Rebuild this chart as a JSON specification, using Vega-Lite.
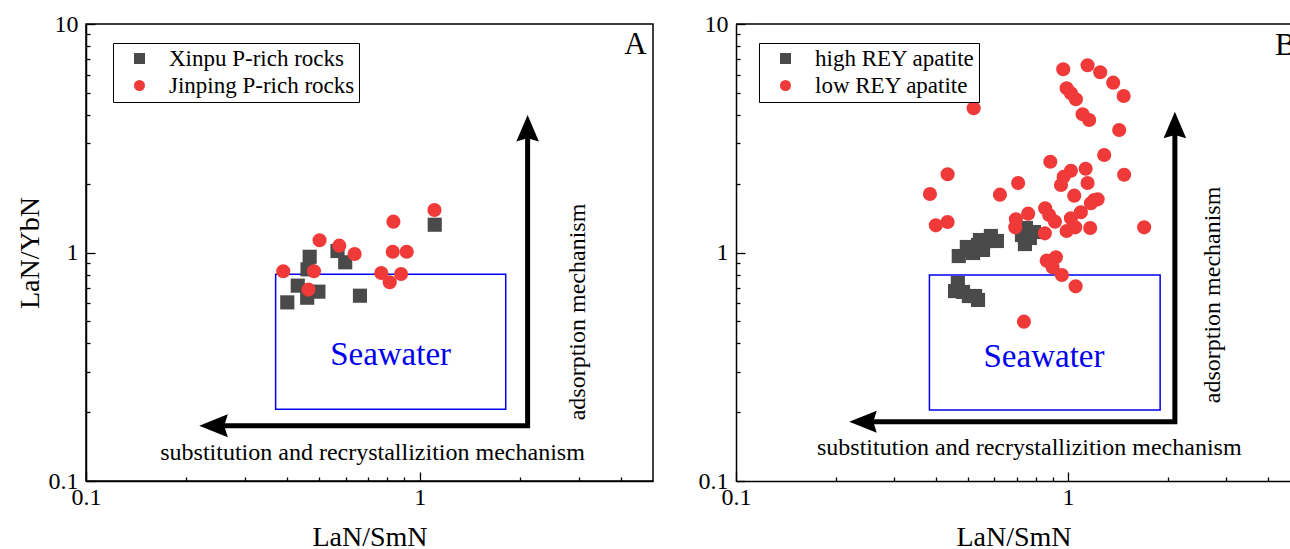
{
  "$schema": "https://vega.github.io/schema/vega-lite/v6.json",
  "background": "white",
  "padding": {"left": 15, "top": 11, "right": 0, "bottom": 0},
  "spacing": 44,
  "config": {
    "view": {"stroke": "black", "strokeWidth": 1.5},
    "axis": {
      "domainColor": "black", "domainWidth": 1.5, "tickColor": "black", "tickWidth": 1.3,
      "labelFont": "Liberation Serif", "labelFontSize": 24, "labelColor": "black",
      "titleFont": "Liberation Serif", "titleFontSize": 28, "titleFontWeight": "normal", "titleColor": "black",
      "grid": false, "labelFlush": false, "labelOverlap": false, "labelBound": false
    },
    "text": {"font": "Liberation Serif"},
    "legend": {
      "title": null, "orient": "none", "padding": 4, "strokeColor": "black", "strokeWidth": 1, "fillColor": "white",
      "labelFont": "Liberation Serif", "labelFontSize": 23, "labelColor": "black", "labelLimit": 500,
      "symbolSize": 121, "symbolOffset": 11, "labelOffset": 18, "rowPadding": 3, "symbolStrokeWidth": 0
    }
  },
  "resolve": {"scale": {"x": "independent", "y": "independent", "color": "independent", "shape": "independent"}},
  "hconcat": [
    {
      "width": 567, "height": 457,
      "layer": [
        {
          "data": {"values": [{"x": 0.37, "x2": 1.81, "y": 0.206, "y2": 0.803}]},
          "mark": {"type": "rect", "filled": false, "color": "#0000ee", "strokeWidth": 1.5},
          "encoding": {
            "x": {"field": "x", "type": "quantitative", "scale": {"type": "log", "domain": [0.1, 5], "nice": false}},
            "x2": {"field": "x2"},
            "y": {"field": "y", "type": "quantitative", "scale": {"type": "log", "domain": [0.1, 10], "nice": false}},
            "y2": {"field": "y2"}
          }
        },
        {
          "data": {"values": [{"x": 0.241, "y": 0.1744, "o": 1}, {"x": 2.105, "y": 0.1744, "o": 2}, {"x": 2.105, "y": 3.5, "o": 3}]},
          "mark": {"type": "line", "color": "black", "strokeWidth": 5, "strokeJoin": "miter", "strokeCap": "butt"},
          "encoding": {
            "x": {"field": "x", "type": "quantitative", "scale": {"type": "log", "domain": [0.1, 5], "nice": false}},
            "y": {"field": "y", "type": "quantitative", "scale": {"type": "log", "domain": [0.1, 10], "nice": false}},
            "order": {"field": "o", "type": "quantitative"}
          }
        },
        {
          "data": {"values": [{"x": 2.105, "y": 3.5}]},
          "mark": {"type": "point", "shape": "M0,-1L0.85,1L0,0.75L-0.85,1Z", "size": 708, "filled": true, "color": "black", "opacity": 1},
          "encoding": {
            "x": {"field": "x", "type": "quantitative", "scale": {"type": "log", "domain": [0.1, 5], "nice": false}},
            "y": {"field": "y", "type": "quantitative", "scale": {"type": "log", "domain": [0.1, 10], "nice": false}}
          }
        },
        {
          "data": {"values": [{"x": 0.241, "y": 0.1744}]},
          "mark": {"type": "point", "shape": "M-1,0L1,-0.8L0.75,0L1,0.8Z", "size": 820, "filled": true, "color": "black", "opacity": 1},
          "encoding": {
            "x": {"field": "x", "type": "quantitative", "scale": {"type": "log", "domain": [0.1, 5], "nice": false}},
            "y": {"field": "y", "type": "quantitative", "scale": {"type": "log", "domain": [0.1, 10], "nice": false}}
          }
        },
        {
          "data": {"values": [{"x": 0.818, "y": 0.356, "label": "Seawater"}]},
          "mark": {"type": "text", "fontSize": 33, "color": "#0000ee", "align": "center", "baseline": "middle"},
          "encoding": {
            "x": {"field": "x", "type": "quantitative", "scale": {"type": "log", "domain": [0.1, 5], "nice": false}},
            "y": {"field": "y", "type": "quantitative", "scale": {"type": "log", "domain": [0.1, 10], "nice": false}},
            "text": {"field": "label"}
          }
        },
        {
          "data": {"values": [{"x": 0.722, "y": 0.1236, "label": "substitution and recrystallizition mechanism"}]},
          "mark": {"type": "text", "fontSize": 24, "color": "black", "align": "center", "baseline": "alphabetic"},
          "encoding": {
            "x": {"field": "x", "type": "quantitative", "scale": {"type": "log", "domain": [0.1, 5], "nice": false}},
            "y": {"field": "y", "type": "quantitative", "scale": {"type": "log", "domain": [0.1, 10], "nice": false}},
            "text": {"field": "label"}
          }
        },
        {
          "data": {"values": [{"x": 3.13, "y": 0.549, "label": "adsorption mechanism"}]},
          "mark": {"type": "text", "fontSize": 24, "color": "black", "align": "center", "baseline": "alphabetic", "angle": 270},
          "encoding": {
            "x": {"field": "x", "type": "quantitative", "scale": {"type": "log", "domain": [0.1, 5], "nice": false}},
            "y": {"field": "y", "type": "quantitative", "scale": {"type": "log", "domain": [0.1, 10], "nice": false}},
            "text": {"field": "label"}
          }
        },
        {
          "data": {"values": [{"x": 4.1, "y": 7.37, "label": "A"}]},
          "mark": {"type": "text", "fontSize": 31, "color": "black", "align": "left", "baseline": "alphabetic"},
          "encoding": {
            "x": {"field": "x", "type": "quantitative", "scale": {"type": "log", "domain": [0.1, 5], "nice": false}},
            "y": {"field": "y", "type": "quantitative", "scale": {"type": "log", "domain": [0.1, 10], "nice": false}},
            "text": {"field": "label"}
          }
        },
        {
          "data": {"values": [
            {"series": "Xinpu P-rich rocks", "x": 1.109, "y": 1.323},
            {"series": "Xinpu P-rich rocks", "x": 0.468, "y": 0.958},
            {"series": "Xinpu P-rich rocks", "x": 0.567, "y": 1.015},
            {"series": "Xinpu P-rich rocks", "x": 0.598, "y": 0.906},
            {"series": "Xinpu P-rich rocks", "x": 0.461, "y": 0.844},
            {"series": "Xinpu P-rich rocks", "x": 0.431, "y": 0.716},
            {"series": "Xinpu P-rich rocks", "x": 0.497, "y": 0.674},
            {"series": "Xinpu P-rich rocks", "x": 0.46, "y": 0.634},
            {"series": "Xinpu P-rich rocks", "x": 0.401, "y": 0.605},
            {"series": "Xinpu P-rich rocks", "x": 0.662, "y": 0.647},
            {"series": "Jinping P-rich rocks", "x": 1.107, "y": 1.535},
            {"series": "Jinping P-rich rocks", "x": 0.834, "y": 1.364},
            {"series": "Jinping P-rich rocks", "x": 0.501, "y": 1.131},
            {"series": "Jinping P-rich rocks", "x": 0.574, "y": 1.071},
            {"series": "Jinping P-rich rocks", "x": 0.638, "y": 0.985},
            {"series": "Jinping P-rich rocks", "x": 0.83, "y": 1.008},
            {"series": "Jinping P-rich rocks", "x": 0.914, "y": 1.008},
            {"series": "Jinping P-rich rocks", "x": 0.39, "y": 0.828},
            {"series": "Jinping P-rich rocks", "x": 0.482, "y": 0.828},
            {"series": "Jinping P-rich rocks", "x": 0.767, "y": 0.813},
            {"series": "Jinping P-rich rocks", "x": 0.879, "y": 0.805},
            {"series": "Jinping P-rich rocks", "x": 0.813, "y": 0.741},
            {"series": "Jinping P-rich rocks", "x": 0.464, "y": 0.688}
          ]},
          "mark": {"type": "point", "filled": true, "size": 200, "opacity": 1},
          "encoding": {
            "x": {"field": "x", "type": "quantitative", "scale": {"type": "log", "domain": [0.1, 5], "nice": false},
              "axis": {"title": "LaN/SmN", "values": [0.1, 0.2, 0.3, 0.4, 0.5, 0.6, 0.7, 0.8, 0.9, 1, 2, 3, 4],
                "labelExpr": "datum.value == 0.1 ? '0.1' : datum.value == 1 ? '1' : ''",
                "tickSize": {"condition": {"test": "datum.value == 0.1 || datum.value == 1", "value": -9}, "value": -4},
                "labelPadding": 13, "titlePadding": 9}},
            "y": {"field": "y", "type": "quantitative", "scale": {"type": "log", "domain": [0.1, 10], "nice": false},
              "axis": {"title": "LaN/YbN", "values": [0.1, 0.2, 0.3, 0.4, 0.5, 0.6, 0.7, 0.8, 0.9, 1, 2, 3, 4, 5, 6, 7, 8, 9, 10],
                "labelExpr": "datum.value == 0.1 ? '0.1' : datum.value == 1 ? '1' : datum.value == 10 ? '10' : ''",
                "tickSize": {"condition": {"test": "datum.value == 0.1 || datum.value == 1 || datum.value == 10", "value": -9}, "value": -4},
                "labelPadding": 17, "titlePadding": 4}},
            "color": {"field": "series", "type": "nominal",
              "scale": {"domain": ["Xinpu P-rich rocks", "Jinping P-rich rocks"], "range": ["#4a4a4a", "#f03a3a"]},
              "legend": {"legendX": 27, "legendY": 19}},
            "shape": {"field": "series", "type": "nominal",
              "scale": {"domain": ["Xinpu P-rich rocks", "Jinping P-rich rocks"], "range": ["square", "circle"]},
              "legend": {"legendX": 27, "legendY": 19}}
          }
        }
      ]
    },
    {
      "width": 555, "height": 457,
      "view": {"stroke": null},
      "layer": [
        {
          "data": {"values": [{"y": 10}]},
          "mark": {"type": "rule", "color": "black", "strokeWidth": 1.5},
          "encoding": {
            "y": {"field": "y", "type": "quantitative", "scale": {"type": "log", "domain": [0.1, 10], "nice": false}}
          }
        },
        {
          "data": {"values": [{"x": 0.3826, "x2": 1.896, "y": 0.2045, "y2": 0.797}]},
          "mark": {"type": "rect", "filled": false, "color": "#0000ee", "strokeWidth": 1.5},
          "encoding": {
            "x": {"field": "x", "type": "quantitative", "scale": {"type": "log", "domain": [0.1, 4.7], "nice": false}},
            "x2": {"field": "x2"},
            "y": {"field": "y", "type": "quantitative", "scale": {"type": "log", "domain": [0.1, 10], "nice": false}},
            "y2": {"field": "y2"}
          }
        },
        {
          "data": {"values": [{"x": 0.2413, "y": 0.1818, "o": 1}, {"x": 2.1, "y": 0.1818, "o": 2}, {"x": 2.1, "y": 3.614, "o": 3}]},
          "mark": {"type": "line", "color": "black", "strokeWidth": 5, "strokeJoin": "miter", "strokeCap": "butt"},
          "encoding": {
            "x": {"field": "x", "type": "quantitative", "scale": {"type": "log", "domain": [0.1, 4.7], "nice": false}},
            "y": {"field": "y", "type": "quantitative", "scale": {"type": "log", "domain": [0.1, 10], "nice": false}},
            "order": {"field": "o", "type": "quantitative"}
          }
        },
        {
          "data": {"values": [{"x": 2.1, "y": 3.614}]},
          "mark": {"type": "point", "shape": "M0,-1L0.85,1L0,0.75L-0.85,1Z", "size": 708, "filled": true, "color": "black", "opacity": 1},
          "encoding": {
            "x": {"field": "x", "type": "quantitative", "scale": {"type": "log", "domain": [0.1, 4.7], "nice": false}},
            "y": {"field": "y", "type": "quantitative", "scale": {"type": "log", "domain": [0.1, 10], "nice": false}}
          }
        },
        {
          "data": {"values": [{"x": 0.2413, "y": 0.1818}]},
          "mark": {"type": "point", "shape": "M-1,0L1,-0.8L0.75,0L1,0.8Z", "size": 760, "filled": true, "color": "black", "opacity": 1},
          "encoding": {
            "x": {"field": "x", "type": "quantitative", "scale": {"type": "log", "domain": [0.1, 4.7], "nice": false}},
            "y": {"field": "y", "type": "quantitative", "scale": {"type": "log", "domain": [0.1, 10], "nice": false}}
          }
        },
        {
          "data": {"values": [{"x": 0.847, "y": 0.35, "label": "Seawater"}]},
          "mark": {"type": "text", "fontSize": 33, "color": "#0000ee", "align": "center", "baseline": "middle"},
          "encoding": {
            "x": {"field": "x", "type": "quantitative", "scale": {"type": "log", "domain": [0.1, 4.7], "nice": false}},
            "y": {"field": "y", "type": "quantitative", "scale": {"type": "log", "domain": [0.1, 10], "nice": false}},
            "text": {"field": "label"}
          }
        },
        {
          "data": {"values": [{"x": 0.765, "y": 0.13, "label": "substitution and recrystallizition mechanism"}]},
          "mark": {"type": "text", "fontSize": 24, "color": "black", "align": "center", "baseline": "alphabetic"},
          "encoding": {
            "x": {"field": "x", "type": "quantitative", "scale": {"type": "log", "domain": [0.1, 4.7], "nice": false}},
            "y": {"field": "y", "type": "quantitative", "scale": {"type": "log", "domain": [0.1, 10], "nice": false}},
            "text": {"field": "label"}
          }
        },
        {
          "data": {"values": [{"x": 2.87, "y": 0.652, "label": "adsorption mechanism"}]},
          "mark": {"type": "text", "fontSize": 24, "color": "black", "align": "center", "baseline": "alphabetic", "angle": 270},
          "encoding": {
            "x": {"field": "x", "type": "quantitative", "scale": {"type": "log", "domain": [0.1, 4.7], "nice": false}},
            "y": {"field": "y", "type": "quantitative", "scale": {"type": "log", "domain": [0.1, 10], "nice": false}},
            "text": {"field": "label"}
          }
        },
        {
          "data": {"values": [{"x": 4.203, "y": 7.317, "label": "B"}]},
          "mark": {"type": "text", "fontSize": 31, "color": "black", "align": "left", "baseline": "alphabetic", "clip": true},
          "encoding": {
            "x": {"field": "x", "type": "quantitative", "scale": {"type": "log", "domain": [0.1, 4.7], "nice": false}},
            "y": {"field": "y", "type": "quantitative", "scale": {"type": "log", "domain": [0.1, 10], "nice": false}},
            "text": {"field": "label"}
          }
        },
        {
          "data": {"values": [
            {"series": "high REY apatite", "x": 0.469, "y": 0.965},
            {"series": "high REY apatite", "x": 0.496, "y": 1.057},
            {"series": "high REY apatite", "x": 0.518, "y": 0.995},
            {"series": "high REY apatite", "x": 0.536, "y": 1.078},
            {"series": "high REY apatite", "x": 0.555, "y": 1.026},
            {"series": "high REY apatite", "x": 0.57, "y": 1.123},
            {"series": "high REY apatite", "x": 0.586, "y": 1.181},
            {"series": "high REY apatite", "x": 0.611, "y": 1.123},
            {"series": "high REY apatite", "x": 0.543, "y": 1.134},
            {"series": "high REY apatite", "x": 0.51, "y": 1.025},
            {"series": "high REY apatite", "x": 0.727, "y": 1.193},
            {"series": "high REY apatite", "x": 0.747, "y": 1.28},
            {"series": "high REY apatite", "x": 0.79, "y": 1.229},
            {"series": "high REY apatite", "x": 0.768, "y": 1.157},
            {"series": "high REY apatite", "x": 0.742, "y": 1.089},
            {"series": "high REY apatite", "x": 0.466, "y": 0.735},
            {"series": "high REY apatite", "x": 0.457, "y": 0.678},
            {"series": "high REY apatite", "x": 0.483, "y": 0.672},
            {"series": "high REY apatite", "x": 0.503, "y": 0.645},
            {"series": "high REY apatite", "x": 0.536, "y": 0.62},
            {"series": "high REY apatite", "x": 0.525, "y": 0.645},
            {"series": "low REY apatite", "x": 1.286, "y": 2.671},
            {"series": "low REY apatite", "x": 0.885, "y": 2.496},
            {"series": "low REY apatite", "x": 0.434, "y": 2.199},
            {"series": "low REY apatite", "x": 1.021, "y": 2.28},
            {"series": "low REY apatite", "x": 0.971, "y": 2.146},
            {"series": "low REY apatite", "x": 1.131, "y": 2.326},
            {"series": "low REY apatite", "x": 1.477, "y": 2.19},
            {"series": "low REY apatite", "x": 0.708, "y": 2.015},
            {"series": "low REY apatite", "x": 0.953, "y": 1.974},
            {"series": "low REY apatite", "x": 1.146, "y": 2.015},
            {"series": "low REY apatite", "x": 0.384, "y": 1.803},
            {"series": "low REY apatite", "x": 0.624, "y": 1.791},
            {"series": "low REY apatite", "x": 1.045, "y": 1.773},
            {"series": "low REY apatite", "x": 1.2, "y": 1.697},
            {"series": "low REY apatite", "x": 1.173, "y": 1.642},
            {"series": "low REY apatite", "x": 1.229, "y": 1.709},
            {"series": "low REY apatite", "x": 0.854, "y": 1.561},
            {"series": "low REY apatite", "x": 0.759, "y": 1.479},
            {"series": "low REY apatite", "x": 1.094, "y": 1.5},
            {"series": "low REY apatite", "x": 0.878, "y": 1.459},
            {"series": "low REY apatite", "x": 0.697, "y": 1.397},
            {"series": "low REY apatite", "x": 1.021, "y": 1.411},
            {"series": "low REY apatite", "x": 0.914, "y": 1.364},
            {"series": "low REY apatite", "x": 0.434, "y": 1.36},
            {"series": "low REY apatite", "x": 0.4, "y": 1.315},
            {"series": "low REY apatite", "x": 1.697, "y": 1.289},
            {"series": "low REY apatite", "x": 1.167, "y": 1.28},
            {"series": "low REY apatite", "x": 1.052, "y": 1.289},
            {"series": "low REY apatite", "x": 0.991, "y": 1.242},
            {"series": "low REY apatite", "x": 0.694, "y": 1.289},
            {"series": "low REY apatite", "x": 0.852, "y": 1.213},
            {"series": "low REY apatite", "x": 0.863, "y": 0.921},
            {"series": "low REY apatite", "x": 0.92, "y": 0.953},
            {"series": "low REY apatite", "x": 0.899, "y": 0.861},
            {"series": "low REY apatite", "x": 0.959, "y": 0.797},
            {"series": "low REY apatite", "x": 1.055, "y": 0.711},
            {"series": "low REY apatite", "x": 0.737, "y": 0.498},
            {"series": "low REY apatite", "x": 0.968, "y": 6.337},
            {"series": "low REY apatite", "x": 1.146, "y": 6.596},
            {"series": "low REY apatite", "x": 1.251, "y": 6.147},
            {"series": "low REY apatite", "x": 1.369, "y": 5.536},
            {"series": "low REY apatite", "x": 1.472, "y": 4.841},
            {"series": "low REY apatite", "x": 0.991, "y": 5.23},
            {"series": "low REY apatite", "x": 1.021, "y": 4.973},
            {"series": "low REY apatite", "x": 1.057, "y": 4.683},
            {"series": "low REY apatite", "x": 1.107, "y": 4.026},
            {"series": "low REY apatite", "x": 1.159, "y": 3.802},
            {"series": "low REY apatite", "x": 1.427, "y": 3.436},
            {"series": "low REY apatite", "x": 0.52, "y": 4.277}
          ]},
          "mark": {"type": "point", "filled": true, "size": 200, "opacity": 1},
          "encoding": {
            "x": {"field": "x", "type": "quantitative", "scale": {"type": "log", "domain": [0.1, 4.7], "nice": false},
              "axis": {"title": "LaN/SmN", "values": [0.1, 0.2, 0.3, 0.4, 0.5, 0.6, 0.7, 0.8, 0.9, 1, 2, 3, 4],
                "labelExpr": "datum.value == 0.1 ? '0.1' : datum.value == 1 ? '1' : ''",
                "tickSize": {"condition": {"test": "datum.value == 0.1 || datum.value == 1", "value": -9}, "value": -4},
                "labelPadding": 13, "titlePadding": 9}},
            "y": {"field": "y", "type": "quantitative", "scale": {"type": "log", "domain": [0.1, 10], "nice": false},
              "axis": {"title": null, "values": [0.1, 0.2, 0.3, 0.4, 0.5, 0.6, 0.7, 0.8, 0.9, 1, 2, 3, 4, 5, 6, 7, 8, 9, 10],
                "labelExpr": "datum.value == 0.1 ? '0.1' : datum.value == 1 ? '1' : datum.value == 10 ? '10' : ''",
                "tickSize": {"condition": {"test": "datum.value == 0.1 || datum.value == 1 || datum.value == 10", "value": -9}, "value": -4},
                "labelPadding": 17}},
            "color": {"field": "series", "type": "nominal",
              "scale": {"domain": ["high REY apatite", "low REY apatite"], "range": ["#4a4a4a", "#f03a3a"]},
              "legend": {"legendX": 23, "legendY": 19}},
            "shape": {"field": "series", "type": "nominal",
              "scale": {"domain": ["high REY apatite", "low REY apatite"], "range": ["square", "circle"]},
              "legend": {"legendX": 23, "legendY": 19}}
          }
        }
      ]
    }
  ]
}
